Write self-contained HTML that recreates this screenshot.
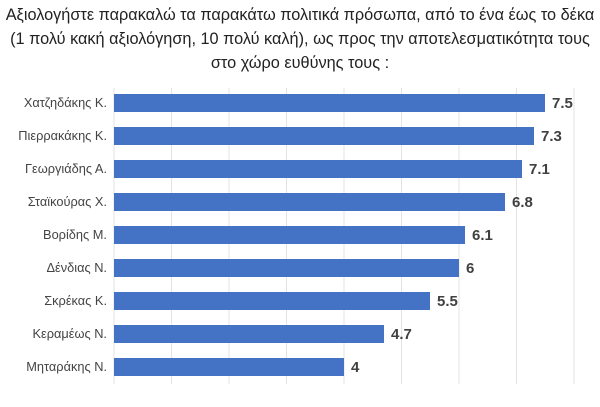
<!DOCTYPE html>
<html><head><meta charset="utf-8"><style>
body{margin:0;width:600px;height:402px;background:#fff;overflow:hidden;font-family:"Liberation Sans","DejaVu Sans",sans-serif}
</style></head><body>
<svg width="600" height="402" xmlns="http://www.w3.org/2000/svg">
<g font-size="16.3" fill="#222" text-anchor="middle">
<text x="300" y="20">Αξιολογήστε παρακαλώ τα παρακάτω πολιτικά πρόσωπα, από το ένα έως το δέκα</text>
<text x="300" y="44">(1 πολύ κακή αξιολόγηση, 10 πολύ καλή), ως προς την αποτελεσματικότητα τους</text>
<text x="300" y="68">στο χώρο ευθύνης τους :</text>
</g>
<g stroke="#e3e3e3" stroke-width="1">
<line x1="114" y1="88" x2="114" y2="384"/><line x1="171.5" y1="88" x2="171.5" y2="384"/><line x1="229" y1="88" x2="229" y2="384"/><line x1="286.5" y1="88" x2="286.5" y2="384"/><line x1="344" y1="88" x2="344" y2="384"/><line x1="401.5" y1="88" x2="401.5" y2="384"/><line x1="459" y1="88" x2="459" y2="384"/><line x1="516.5" y1="88" x2="516.5" y2="384"/><line x1="574" y1="88" x2="574" y2="384"/>
</g>
<g fill="#4472c4">
<rect x="114" y="94" width="431" height="18"/>
<rect x="114" y="127" width="420" height="18"/>
<rect x="114" y="160" width="408" height="18"/>
<rect x="114" y="193" width="391" height="18"/>
<rect x="114" y="226" width="351" height="18"/>
<rect x="114" y="259" width="345" height="18"/>
<rect x="114" y="292" width="316" height="18"/>
<rect x="114" y="325" width="270" height="18"/>
<rect x="114" y="358" width="230" height="18"/>
</g>
<g font-size="12.8" fill="#444" text-anchor="end">
<text x="107" y="107">Χατζηδάκης Κ.</text>
<text x="107" y="140">Πιερρακάκης Κ.</text>
<text x="107" y="173">Γεωργιάδης Α.</text>
<text x="107" y="206">Σταϊκούρας Χ.</text>
<text x="107" y="239">Βορίδης Μ.</text>
<text x="107" y="272">Δένδιας Ν.</text>
<text x="107" y="305">Σκρέκας Κ.</text>
<text x="107" y="338">Κεραμέως Ν.</text>
<text x="107" y="371">Μηταράκης Ν.</text>
</g>
<g font-size="15" font-weight="bold" fill="#404040">
<text x="552" y="108">7.5</text>
<text x="541" y="141">7.3</text>
<text x="529" y="174">7.1</text>
<text x="512" y="207">6.8</text>
<text x="472" y="240">6.1</text>
<text x="466" y="273">6</text>
<text x="437" y="306">5.5</text>
<text x="391" y="339">4.7</text>
<text x="351" y="372">4</text>
</g>
</svg>
</body></html>
